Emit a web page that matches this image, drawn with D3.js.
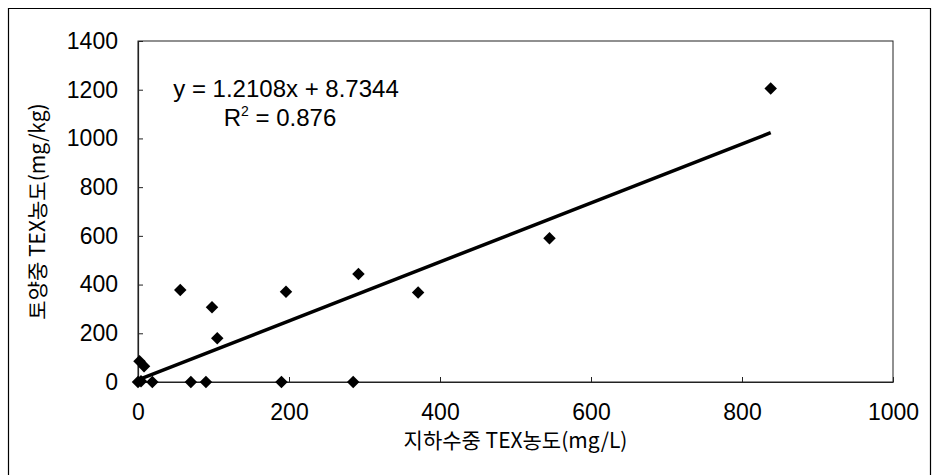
<!DOCTYPE html>
<html><head><meta charset="utf-8">
<script src="https://cdn.jsdelivr.net/npm/d3@7"></script>
<style>
html,body{margin:0;padding:0;background:#fff;}
svg{display:block;}
</style></head>
<body>
<svg id="chart" width="932" height="475"></svg>
<script>
// Data
const xValues = [0, 4, 2, 8, 19, 70, 90, 190, 285, 105, 56, 98, 196, 292, 371, 545, 838];
const yValues = [0, 3, 85, 65, 0, 0, 0, 0, 0, 180, 378, 307, 371, 443, 367, 590, 1205];
const xTicks = [0, 200, 400, 600, 800, 1000];
const yTicks = [0, 200, 400, 600, 800, 1000, 1200, 1400];
const slope = 1.2108, intercept = 8.7344;
const eqLabel = "y = 1.2108x + 8.7344";
const r2Value = "0.876";
const xTitle = "지하수중 TEX농도(mg/L)";
const yTitle = "토양중 TEX농도(mg/kg)";

const svg = d3.select("#chart");
const L = 138, R = 893, T = 41, B = 382;
const x = d3.scaleLinear().domain([0, 1000]).range([L, R]);
const y = d3.scaleLinear().domain([0, 1400]).range([B, T]);
const font = "'Liberation Sans', Arial, sans-serif";
const kfont = "'Noto Sans CJK KR', sans-serif";
const fmt = d3.format("d");

// outer border
svg.append("path").attr("d", "M8.5,475 V8.5 H930.5 V475")
  .attr("fill", "none").attr("stroke", "#000").attr("stroke-width", 1.2);

// plot frame
svg.append("rect").attr("x", L).attr("y", T).attr("width", R - L).attr("height", B - T)
  .attr("fill", "none").attr("stroke", "#222").attr("stroke-width", 1);

// axes
const yAxis = d3.axisLeft(y).tickValues(yTicks).tickFormat(fmt).tickSizeInner(-5).tickSizeOuter(0).tickPadding(20);
const gy = svg.append("g").attr("transform", `translate(${L},0)`).call(yAxis);
const xAxis = d3.axisBottom(x).tickValues(xTicks).tickFormat(fmt).tickSizeInner(-5).tickSizeOuter(0).tickPadding(21);
const gx = svg.append("g").attr("transform", `translate(0,${B})`).call(xAxis);
[gy, gx].forEach(g => {
  g.select(".domain").attr("stroke", "#222").attr("stroke-width", 1.2);
  g.selectAll(".tick line").attr("stroke", "#222");
  g.selectAll(".tick text").attr("font-family", font).attr("font-size", 23).attr("fill", "#000");
});
gx.selectAll(".tick text").attr("dy", "0.35em").attr("y", 30);

// regression line
const xMin = d3.min(xValues), xMax = d3.max(xValues);
svg.append("line")
  .attr("x1", x(xMin)).attr("y1", y(slope * xMin + intercept))
  .attr("x2", x(xMax)).attr("y2", y(slope * xMax + intercept))
  .attr("stroke", "#000").attr("stroke-width", 3.5);

// points
const sym = d3.symbol().type(d3.symbolSquare).size(78);
svg.append("g").selectAll("path").data(xValues.map((v, i) => [v, yValues[i]]))
  .join("path")
  .attr("d", sym)
  .attr("transform", d => `translate(${x(d[0])},${y(d[1])}) rotate(45)`)
  .attr("fill", "#000");

// equation
svg.append("text").attr("x", 286).attr("y", 97).attr("text-anchor", "middle")
  .attr("font-family", font).attr("font-size", 24).attr("fill", "#000").text(eqLabel);
const r2 = svg.append("text").attr("x", 280).attr("y", 126).attr("text-anchor", "middle")
  .attr("font-family", font).attr("font-size", 24).attr("fill", "#000");
r2.append("tspan").text("R");
r2.append("tspan").attr("font-size", 14).attr("dy", -10).text("2");
r2.append("tspan").attr("dy", 10).text(" = " + r2Value);

// axis titles
svg.append("text").attr("x", (L + R) / 2).attr("y", 448).attr("text-anchor", "middle")
  .attr("font-family", kfont).attr("font-size", 21).attr("fill", "#000").text(xTitle);
svg.append("text").attr("transform", `translate(45,${(T + B) / 2}) rotate(-90)`)
  .attr("text-anchor", "middle")
  .attr("font-family", kfont).attr("font-size", 21).attr("fill", "#000").text(yTitle);
</script>
</body></html>
